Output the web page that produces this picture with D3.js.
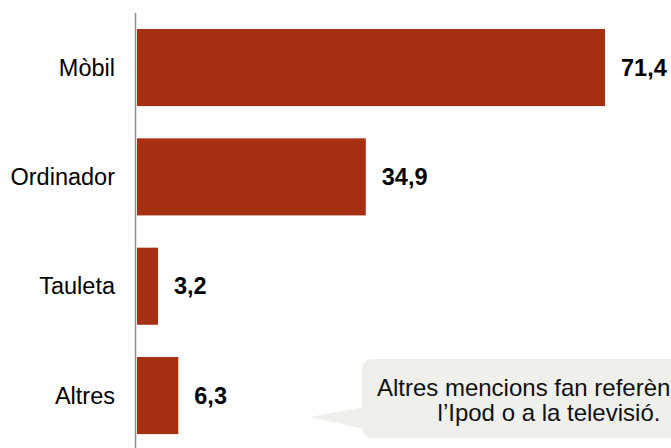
<!DOCTYPE html>
<html>
<head>
<meta charset="utf-8">
<script src="https://cdn.jsdelivr.net/npm/d3@7"></script>
<style>
  body { margin: 0; background: #fff; }
  svg { display: block; font-family: "Liberation Sans", Arial, sans-serif; }
</style>
</head>
<body>
<div id="chart"></div>
<script>
// data
const categories = ["Mòbil", "Ordinador", "Tauleta", "Altres"];
const values = [71.4, 34.9, 3.2, 6.3];
const valueLabels = ["71,4", "34,9", "3,2", "6,3"];
const noteLines = ["Altres mencions fan referència a", "l’Ipod o a la televisió."];

const width = 671, height = 448;
const x0 = 137;

const svg = d3.select("#chart").append("svg")
  .attr("width", width)
  .attr("height", height);

const x = d3.scaleLinear().domain([0, 71.4]).range([x0, 605]);

const y = d3.scaleBand()
  .domain(categories)
  .range([12.6, 450.5])
  .paddingInner(0.295)
  .paddingOuter(0.15);

// bars
svg.append("g").selectAll("rect")
  .data(values)
  .enter().append("rect")
  .attr("x", x(0))
  .attr("y", (d, i) => y(categories[i]))
  .attr("width", d => x(d) - x(0))
  .attr("height", y.bandwidth())
  .attr("fill", "#a53013");

// axis line
svg.append("line")
  .attr("x1", 135.5).attr("x2", 135.5)
  .attr("y1", 13).attr("y2", height)
  .attr("stroke", "#8c8c8c")
  .attr("stroke-width", 1.5);

// category labels
svg.append("g").selectAll("text")
  .data(categories)
  .enter().append("text")
  .attr("x", 115)
  .attr("y", d => y(d) + y.bandwidth() / 2)
  .attr("dy", "0.35em")
  .attr("text-anchor", "end")
  .style("font-size", "23.5px")
  .attr("fill", "#000")
  .text(d => d);

// value labels
svg.append("g").selectAll("text")
  .data(values)
  .enter().append("text")
  .attr("x", d => x(d) + 16)
  .attr("y", (d, i) => y(categories[i]) + y.bandwidth() / 2)
  .attr("dy", "0.35em")
  .style("font-size", "23.5px")
  .style("font-weight", "bold")
  .attr("fill", "#000")
  .text((d, i) => valueLabels[i]);

// callout bubble
const note = svg.append("g");
note.append("path")
  .attr("d", "M310,417 L364,407 L364,429 Z")
  .attr("fill", "#efefeb");
note.append("rect")
  .attr("x", 362).attr("y", 359)
  .attr("width", 340).attr("height", 79)
  .attr("rx", 9)
  .attr("fill", "#efefeb");
note.selectAll("text")
  .data(noteLines)
  .enter().append("text")
  .attr("x", 549)
  .attr("y", (d, i) => 396 + i * 24.5)
  .attr("text-anchor", "middle")
  .style("font-size", "24px")
  .attr("fill", "#111")
  .text(d => d);
</script>
</body>
</html>
